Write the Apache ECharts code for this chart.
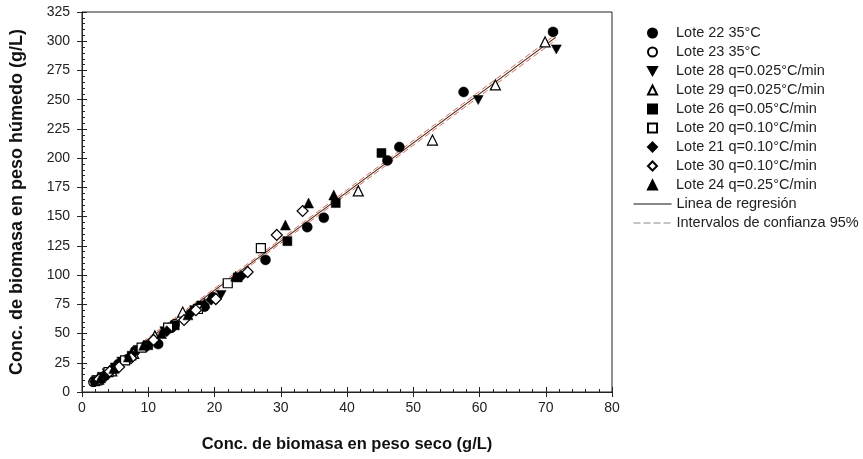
<!DOCTYPE html>
<html><head><meta charset="utf-8">
<script src="https://cdn.jsdelivr.net/npm/echarts@6/dist/echarts.min.js"></script>
<style>html,body{margin:0;padding:0;background:#fff}#c{width:863px;height:459px}</style>
</head><body><div id="c"></div>
<script>
// ---- data ----
const lote22 = [[1.8,9],[3.5,14],[5.5,24],[8,35],[11.5,41],[13.5,55],[18.5,73],[19.8,81],[27.7,113],[34,141],[36.5,149],[46.1,198],[47.9,209.5],[57.6,256.6],[71.1,308]];
const lote23 = [[1.7,8.5],[2.8,12],[4.5,19],[6.8,28],[9.5,39],[14,58],[17.5,72]];
const lote28 = [[2.2,10],[3.8,16],[6,26],[8.5,36],[12.5,52],[17,70],[21,83],[59.8,249.7],[71.6,293]];
const lote29 = [[2.5,11],[4.5,18],[7.8,33],[11,48],[15.2,68.4],[41.7,172],[52.9,215.5],[62.4,262.6],[69.9,299.4]];
const lote26 = [[2,9],[3,13],[5,21],[7.5,31],[10,40],[14,57],[18,74],[23.5,98],[31,129],[38.3,161.6],[45.2,204.4]];
const lote20 = [[2.3,10],[4,17],[6.5,27],[9,38],[13,55],[17.5,71],[22,93],[27,123]];
const lote21 = [[1.9,9],[3.2,13],[5.2,22],[7.2,30],[9.8,39],[12.8,52],[16.5,68],[19.5,79],[24,99]];
const lote30 = [[2.6,11],[4.2,17.5],[5.6,21.4],[7.4,29],[10.8,44.5],[15.4,61.6],[17.2,70],[20.2,79.5],[25,102.6],[29.4,134.3],[33.3,154.8]];
const lote24 = [[2.8,12],[4.8,20],[7,30],[9.3,40],[12,50],[16,66],[18.5,76],[23.2,99],[30.7,142.8],[34.2,161.6],[38,168.5]];
const regX = [1.5, 71.5];
const regY = [9.3, 303.3];
const ciUpperY = [10.6, 305.6];
const ciLowerY = [8.0, 301.0];
const names = ['Lote 22 35°C','Lote 23 35°C','Lote 28 q=0.025°C/min','Lote 29 q=0.025°C/min','Lote 26 q=0.05°C/min','Lote 20 q=0.10°C/min','Lote 21 q=0.10°C/min','Lote 30 q=0.10°C/min','Lote 24 q=0.25°C/min','Linea de regresión','Intervalos de confianza 95%'];
const xTicks = [0,10,20,30,40,50,60,70,80];
const yTicks = [0,25,50,75,100,125,150,175,200,225,250,275,300,325];

// ---- chart ----
const F = 'Liberation Sans, Arial, sans-serif';
const invTri = 'path://M0,0 L10,0 L5,9 Z';
function sc(name, data, symbol, size, filled){
  return {type:'scatter', name, data, symbol, symbolSize:size, z:5,
    itemStyle: filled ? {color:'#000', borderColor:'#000', borderWidth:0.5, opacity:1}
                      : {color:'#fff', borderColor:'#000', borderWidth:1.2, opacity:1},
    emphasis:{disabled:true}};
}
const pair = (xs, ys) => xs.map((x,i)=>[x, ys[i]]);
const chart = echarts.init(document.getElementById('c'), null, {renderer:'canvas'});
const axisCommon = {
  axisLine:{show:true, onZero:false, lineStyle:{color:'#222', width:1}},
  splitLine:{show:false}
};
chart.setOption({
  animation:false,
  backgroundColor:'#fff',
  grid:{left:81, right:251, top:12, bottom:67, show:true, borderColor:'#222', borderWidth:1, backgroundColor:'transparent'},
  xAxis:[
    Object.assign({type:'value', min:0, max:80, interval:10, position:'bottom',
      name:'Conc. de biomasa en peso seco (g/L)', nameLocation:'middle', nameGap:44,
      nameTextStyle:{fontFamily:F, fontSize:16.5, fontWeight:'bold', color:'#111'},
      axisTick:{show:true, inside:false, length:5, lineStyle:{color:'#222'}},
      minorTick:{show:false},
      axisLabel:{fontFamily:F, fontSize:14, color:'#222', margin:9,
        formatter:v=>xTicks.includes(v)?String(v):''}}, axisCommon),
    {type:'value', min:0, max:80, interval:10, position:'bottom', axisLine:{show:false},
      splitLine:{show:false}, axisLabel:{show:false},
      axisTick:{show:true, inside:true, length:5, lineStyle:{color:'#222'}},
      minorTick:{show:true, splitNumber:5, length:3, lineStyle:{color:'#222'}}}
  ],
  yAxis:[
    Object.assign({type:'value', min:0, max:325, interval:25, position:'left',
      name:'Conc. de biomasa en peso húmedo (g/L)', nameLocation:'middle', nameGap:56,
      nameTextStyle:{fontFamily:F, fontSize:18, fontWeight:'bold', color:'#111'},
      axisTick:{show:true, inside:false, length:5, lineStyle:{color:'#222'}},
      minorTick:{show:false},
      axisLabel:{fontFamily:F, fontSize:14, color:'#222', margin:12,
        formatter:v=>yTicks.includes(v)?String(v):''}}, axisCommon),
    {type:'value', min:0, max:325, interval:25, position:'left', axisLine:{show:false},
      splitLine:{show:false}, axisLabel:{show:false},
      axisTick:{show:true, inside:true, length:5, lineStyle:{color:'#222'}},
      minorTick:{show:true, splitNumber:5, length:3, lineStyle:{color:'#222'}}}
  ],
  legend:[{
    orient:'vertical', left:642, top:20, itemWidth:9, itemHeight:9, itemGap:3,
    textStyle:{fontFamily:F, fontSize:14.5, color:'#222', lineHeight:16, padding:[0,0,0,14]},
    data:names.slice(0,9), selectedMode:false
  },{
    orient:'vertical', left:628, top:191, itemWidth:38, itemHeight:9, itemGap:3,
    textStyle:{fontFamily:F, fontSize:14.5, color:'#222', lineHeight:16},
    itemStyle:{opacity:0},
    data:[{name:names[9], itemStyle:{opacity:0}, lineStyle:{color:'#111', width:1}},
          {name:names[10], itemStyle:{opacity:0}, lineStyle:{color:'#888', width:1, type:[7,3]}}],
    selectedMode:false
  }],
  series:[
    sc(names[0], lote22, 'circle', 10, true),
    sc(names[1], lote23, 'circle', 9, false),
    sc(names[2], lote28, invTri, [10,9], true),
    sc(names[3], lote29, 'triangle', 10, false),
    sc(names[4], lote26, 'rect', 9, true),
    sc(names[5], lote20, 'rect', 9, false),
    sc(names[6], lote21, 'diamond', 11, true),
    sc(names[7], lote30, 'diamond', 11, false),
    sc(names[8], lote24, 'triangle', 10, true),
    {type:'line', name:names[9], data:pair(regX, regY), symbol:'none', z:3,
      lineStyle:{color:'#4a2a22', width:1.2}, itemStyle:{color:'#222'}, emphasis:{disabled:true}},
    {type:'line', name:names[10], data:pair(regX, ciUpperY), symbol:'none', z:2,
      lineStyle:{color:'#d86a50', width:1, type:[6,3]}, itemStyle:{color:'#999'}, emphasis:{disabled:true}},
    {type:'line', name:names[10], data:pair(regX, ciLowerY), symbol:'none', z:2,
      lineStyle:{color:'#d86a50', width:1, type:[6,3]}, itemStyle:{color:'#999'}, emphasis:{disabled:true}}
  ]
});
</script></body></html>
